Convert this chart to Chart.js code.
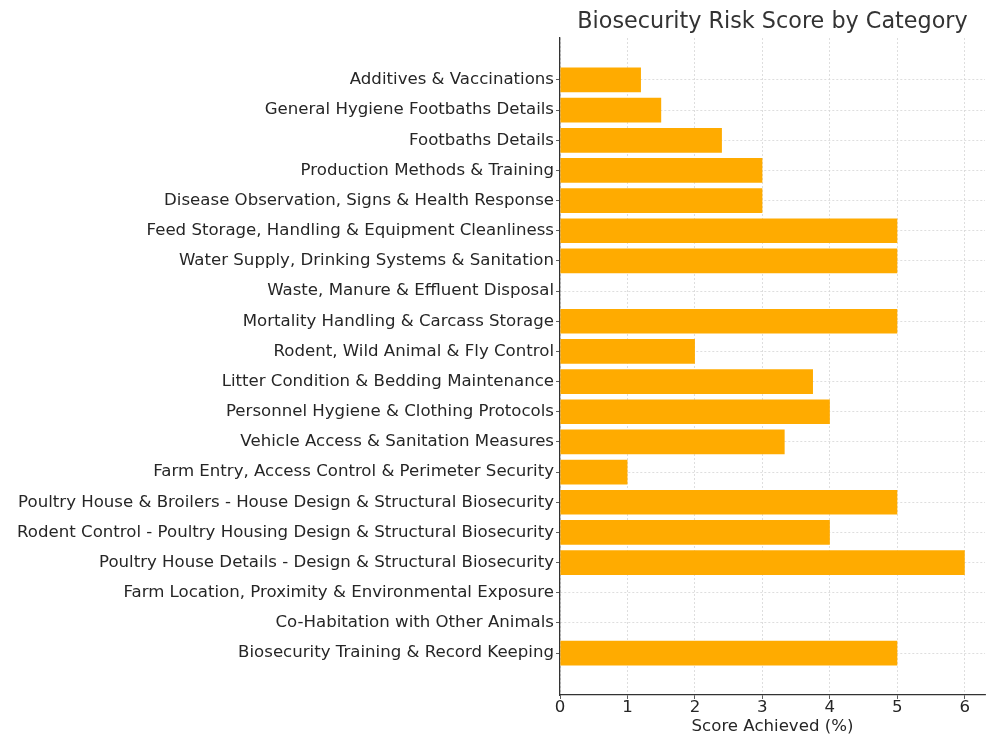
<!DOCTYPE html>
<html>
<head>
<meta charset="utf-8">
<script src="https://cdn.jsdelivr.net/npm/chart.js@4.4.1/dist/chart.umd.min.js"></script>
<style>
  html, body { margin: 0; padding: 0; background: #fff; }
  #wrap { width: 1000px; height: 750px; }
</style>
</head>
<body>
<div id="wrap"><canvas id="chart"></canvas></div>
<script>
const categories = [
  "Additives & Vaccinations",
  "General Hygiene Footbaths Details",
  "Footbaths Details",
  "Production Methods & Training",
  "Disease Observation, Signs & Health Response",
  "Feed Storage, Handling & Equipment Cleanliness",
  "Water Supply, Drinking Systems & Sanitation",
  "Waste, Manure & Effluent Disposal",
  "Mortality Handling & Carcass Storage",
  "Rodent, Wild Animal & Fly Control",
  "Litter Condition & Bedding Maintenance",
  "Personnel Hygiene & Clothing Protocols",
  "Vehicle Access & Sanitation Measures",
  "Farm Entry, Access Control & Perimeter Security",
  "Poultry House & Broilers - House Design & Structural Biosecurity",
  "Rodent Control - Poultry Housing Design & Structural Biosecurity",
  "Poultry House Details - Design & Structural Biosecurity",
  "Farm Location, Proximity & Environmental Exposure",
  "Co-Habitation with Other Animals",
  "Biosecurity Training & Record Keeping"
]
const scores = [1.2, 1.5, 2.4, 3, 3, 5, 5, 0, 5, 2, 3.75, 4, 3.33, 1, 5, 4, 6, 0, 0, 5]
const xTicks = [0, 1, 2, 3, 4, 5, 6]

const FONT = "'DejaVu Sans', sans-serif"
const TEXT = "#262626"
const FS = 16.6

// title centred over the plot area, not the canvas
const titlePlugin = {
  id: "plotTitle",
  afterDraw(chart) {
    const { ctx, chartArea } = chart
    ctx.save()
    ctx.font = "22.3px " + FONT
    ctx.fillStyle = "#333"
    ctx.textAlign = "center"
    ctx.textBaseline = "middle"
    ctx.fillText("Biosecurity Risk Score by Category", (chartArea.left + chartArea.right) / 2, 22)
    ctx.restore()
  }
}

new Chart(document.getElementById("chart"), {
  type: "bar",
  data: {
    datasets: [{
      data: scores.map((v, i) => ({ x: v, y: i })),
      backgroundColor: "#ffab00",
      borderWidth: 0,
      barPercentage: 1,
      categoryPercentage: 0.82
    }]
  },
  options: {
    indexAxis: "y",
    responsive: true,
    maintainAspectRatio: false,
    animation: false,
    layout: { padding: { top: 38, right: 15, left: 0, bottom: 13 } },
    plugins: { legend: { display: false }, tooltip: { enabled: false } },
    scales: {
      x: {
        type: "linear",
        min: 0,
        max: 6.3,
        afterBuildTicks: s => { s.ticks = xTicks.map(v => ({ value: v })) },
        afterFit: s => { s.height = 42 },
        grid: { color: "#d6d6d6", lineWidth: 0.8, tickColor: "#333", tickLength: 4 },
        border: { display: true, color: "#333", width: 1.3, dash: [2, 2] },
        ticks: { color: TEXT, font: { family: FONT, size: FS, lineHeight: 1 }, padding: 0 },
        title: { display: true, text: "Score Achieved (%)", color: TEXT, font: { family: FONT, size: FS }, padding: 0 }
      },
      y: {
        type: "linear",
        reverse: true,
        offset: false,
        min: -1.39,
        max: 20.39,
        afterBuildTicks: s => { s.ticks = categories.map((_, i) => ({ value: i })) },
        afterFit: s => { s.width = 560 },
        grid: { offset: false, color: "#d6d6d6", lineWidth: 0.8, tickColor: "#333", tickLength: 4 },
        border: { display: true, color: "#333", width: 1.3, dash: [2, 2] },
        ticks: {
          color: TEXT,
          font: { family: FONT, size: FS },
          padding: 2,
          autoSkip: false,
          callback: v => categories[v]
        }
      }
    }
  },
  plugins: [titlePlugin]
})
</script>
</body>
</html>
